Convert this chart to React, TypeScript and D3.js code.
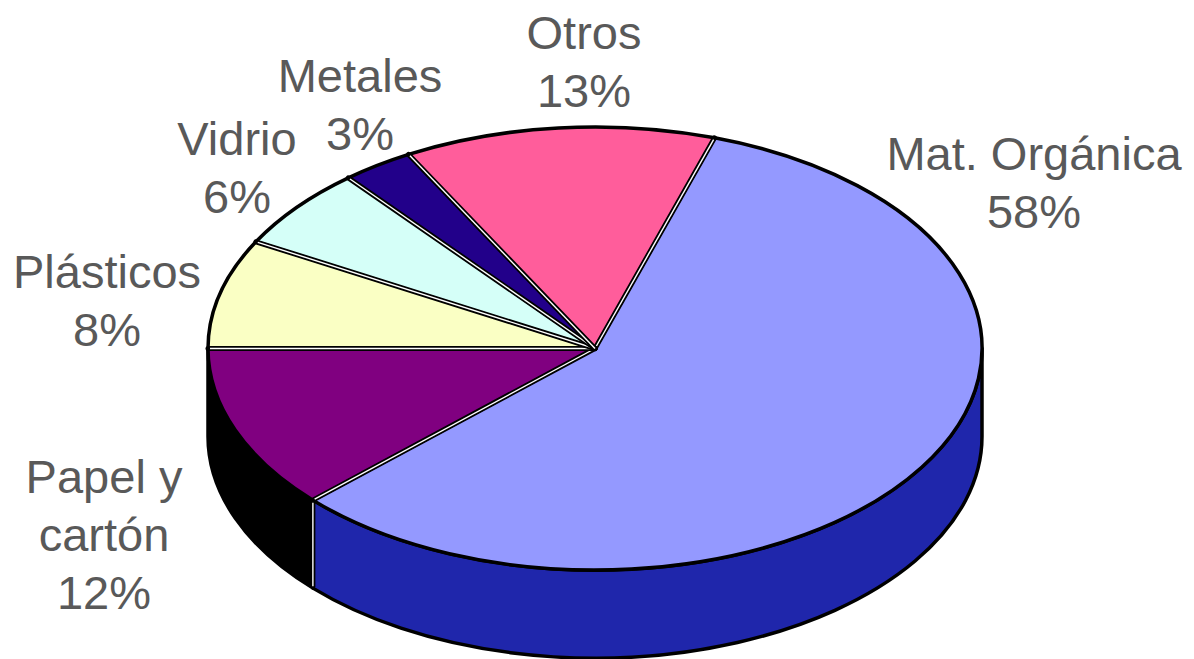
import React from "react";
import * as d3 from "d3";

const categories = ["Mat. Orgánica", "Papel y cartón", "Plásticos", "Vidrio", "Metales", "Otros"];
const values = [58, 12, 8, 6, 3, 13];
const labelLines = [["Mat. Orgánica"], ["Papel y", "cartón"], ["Plásticos"], ["Vidrio"], ["Metales"], ["Otros"]];
const topColors = ["#9499FF", "#800080", "#FAFFC4", "#D5FFF8", "#22008A", "#FF5D9B"];
const sideColors = ["#1F26AB", "#000000", "#C8CC9C", "#AACCC6", "#11004A", "#CC4A7C"];
// label anchor (center x, first baseline y)
const labelPos = [
  [1034, 170],
  [104, 493],
  [107, 288],
  [237, 155],
  [360, 92],
  [584, 49],
];

const W = 1194;
const H = 659;
const cx = 595;
const cy = 348.5;
const rx = 387;
const ry = 221.5;
const depth = 88;
const startDeg = 18;

function pt(a: number, dy = 0): [number, number] {
  return [cx + rx * Math.sin(a), cy - ry * Math.cos(a) + dy];
}

export default function App() {
  const s0 = (startDeg * Math.PI) / 180;
  const pie = d3
    .pie<number>()
    .sort(null)
    .startAngle(s0)
    .endAngle(s0 + 2 * Math.PI)
    .value((d) => d);
  const arcs = pie(values);

  const topPath = (a0: number, a1: number) => {
    const p0 = pt(a0);
    const p1 = pt(a1);
    const large = a1 - a0 > Math.PI ? 1 : 0;
    return `M${cx},${cy}L${p0[0]},${p0[1]}A${rx},${ry} 0 ${large} 1 ${p1[0]},${p1[1]}Z`;
  };

  const sides: { i: number; a0: number; a1: number }[] = [];
  arcs.forEach((a, i) => {
    for (const off of [0, 2 * Math.PI, -2 * Math.PI]) {
      const lo = Math.max(a.startAngle, Math.PI / 2 + off);
      const hi = Math.min(a.endAngle, (3 * Math.PI) / 2 + off);
      if (hi > lo + 1e-6) sides.push({ i, a0: lo, a1: hi });
    }
  });
  const sidePath = (a0: number, a1: number) => {
    const t0 = pt(a0);
    const t1 = pt(a1);
    const b0 = pt(a0, depth);
    const b1 = pt(a1, depth);
    return `M${t0[0]},${t0[1]}A${rx},${ry} 0 0 1 ${t1[0]},${t1[1]}L${b1[0]},${b1[1]}A${rx},${ry} 0 0 0 ${b0[0]},${b0[1]}Z`;
  };

  const total = d3.sum(values);
  const boundaries = arcs.map((a) => a.startAngle);

  return (
    <svg
      width={W}
      height={H}
      style={{ position: "absolute", left: 0, top: 0, background: "#fff" }}
    >
      <g>
        {sides.map((s, k) => (
          <path
            key={"s" + k}
            d={sidePath(s.a0, s.a1)}
            fill={sideColors[s.i]}
            stroke="#000"
            strokeWidth={3.5}
            strokeLinejoin="round"
          />
        ))}
        {boundaries.map((b, k) => {
          const twoPi = 2 * Math.PI;
          const m = ((b % twoPi) + twoPi) % twoPi;
          if (m > Math.PI / 2 + 0.01 && m < (3 * Math.PI) / 2 - 0.01) {
            const t = pt(m);
            return (
              <g key={"v" + k}>
                <line x1={t[0]} y1={t[1]} x2={t[0]} y2={t[1] + depth - 1} stroke="#000" strokeWidth={5} />
                <line x1={t[0]} y1={t[1] + 2} x2={t[0]} y2={t[1] + depth - 2} stroke="#fff" strokeWidth={1.4} />
              </g>
            );
          }
          return null;
        })}
      </g>
      <g>
        {arcs.map((a, i) => (
          <path
            key={"t" + i}
            d={topPath(a.startAngle, a.endAngle)}
            fill={topColors[i]}
            stroke="#000"
            strokeWidth={3.5}
            strokeLinejoin="round"
          />
        ))}
        {boundaries.map((b, k) => {
          const p = pt(b);
          const dx = p[0] - cx;
          const dy = p[1] - cy;
          const len = Math.hypot(dx, dy);
          const ex = cx + (dx * (len - 2)) / len;
          const ey = cy + (dy * (len - 2)) / len;
          return (
            <g key={"r" + k}>
              <line x1={cx} y1={cy} x2={p[0]} y2={p[1]} stroke="#000" strokeWidth={5} strokeLinecap="round" />
              <line x1={cx} y1={cy} x2={ex} y2={ey} stroke="#fff" strokeWidth={1.4} />
            </g>
          );
        })}
      </g>
      <g
        fontFamily="Arial, 'Liberation Sans', sans-serif"
        fontSize={47}
        fill="#595959"
        textAnchor="middle"
      >
        {categories.map((c, i) => {
          const lines = [...labelLines[i], `${Math.round((values[i] / total) * 100)}%`];
          const [x, y] = labelPos[i];
          return (
            <text key={"l" + i} x={x} y={y}>
              {lines.map((ln, j) => (
                <tspan key={j} x={x} y={y + j * 58}>
                  {ln}
                </tspan>
              ))}
            </text>
          );
        })}
      </g>
    </svg>
  );
}
